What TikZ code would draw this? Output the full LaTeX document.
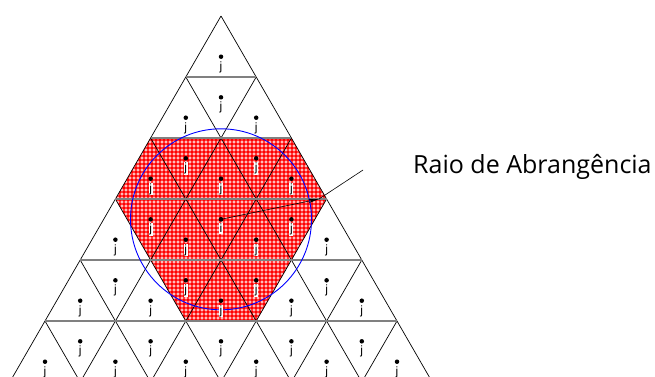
\documentclass[tikz,border=0pt]{standalone}
\usepackage{fontspec}
\setmainfont{Liberation Sans}
\newfontfamily\calloutfont{Open Sans}
\usepackage{tikz}
\usetikzlibrary{arrows.meta,positioning,patterns}
\definecolor{cRed}{HTML}{FF0000}
\definecolor{cBlue}{HTML}{0000FF}
\definecolor{cRow}{HTML}{808080}
\definecolor{cInk}{HTML}{000000}
% small white rings on the red cells
\pgfdeclarepatternformonly{rings}{\pgfqpoint{-1pt}{-1pt}}{\pgfqpoint{5pt}{5pt}}{\pgfqpoint{4pt}{4pt}}{%
  \pgfsetlinewidth{0.55pt}\pgfpathcircle{\pgfqpoint{2pt}{2pt}}{1.2pt}\pgfusepath{stroke}}
\tikzset{
  diag/.style={draw=cInk,line width=0.7pt},
  rowline/.style={draw=cRow,line width=1.3pt},
  ptdot/.style={circle,fill=cInk,inner sep=0pt,minimum size=4.5pt},
  lbl/.style={font=\fontsize{12}{13}\selectfont,fill=white,inner sep=0.7pt,text=cInk},
  ring/.style={draw=cBlue,line width=0.9pt},
  arr/.style={-{Stealth[length=11pt,width=4pt]},line width=0.6pt,color=cInk},
  lead/.style={line width=0.6pt,color=cInk},
}

\begin{document}
\begin{tikzpicture}[x=1pt,y=-1pt]
    \useasboundingbox (0,0) rectangle (655,376);
    % lattice vertices, row k, position m
    \foreach \k in {0,...,6}
      \foreach \m in {0,...,\k}
        \coordinate (v-\k-\m) at ({221+(2*\m-\k)*35.2},{16+61*\k});
    % covered area
    \fill[cRed] (v-2-0) -- (v-2-2) -- (v-3-3) -- (v-5-3) -- (v-5-2) -- (v-3-0) -- cycle;
    \fill[pattern=rings,pattern color=white] (v-2-0) -- (v-2-2) -- (v-3-3) -- (v-5-3) -- (v-5-2) -- (v-3-0) -- cycle;
    \begin{scope}
      \clip (0,0) rectangle (655,376);
      \foreach \k [evaluate=\k as \r using int(6-\k)] in {0,...,5} {
        \draw[diag] (v-\k-0) -- (v-6-\r);
        \draw[diag] (v-\k-\k) -- (v-6-\k);
      }
      \foreach \k in {1,...,5}
        \draw[rowline] (v-\k-0) -- (v-\k-\k);
    \end{scope}
    % coverage radius
    \node[ptdot] (c) at (221,219.3) {};
    \draw[ring] (c.center) circle (90.5pt);
    % upward cells
    \foreach \k in {1,...,6}
      \foreach \m in {1,...,\k} {
        \node[ptdot] (u-\k-\m) at ({221+(2*\m-\k-1)*35.2},{16+61*\k-20.3}) {};
        \node[lbl,below=1.5pt of u-\k-\m] (lu-\k-\m) {j};
      }
    % downward cells
    \foreach \k [evaluate=\k as \kk using int(\k-1)] in {2,...,6}
      \foreach \m in {1,...,\kk} {
        \node[ptdot] (d-\k-\m) at ({221+(2*\m-\k)*35.2},{16+61*\kk+20.3}) {};
        \node[lbl,below=1.5pt of d-\k-\m] (ld-\k-\m) {\ifnum\k\m=42 i\else j\fi};
      }
    % callout
    \coordinate (tip) at (319,199);
    \coordinate (bend) at (363,170);
    \node[font=\calloutfont\fontsize{25}{30}\selectfont,anchor=base west,inner sep=0pt] (raio) at (413,173) {Raio de Abrangência};
    \draw[arr] (d-4-2.center) -- (tip);
    \draw[lead] (bend) -- (tip);
\end{tikzpicture}
\end{document}
